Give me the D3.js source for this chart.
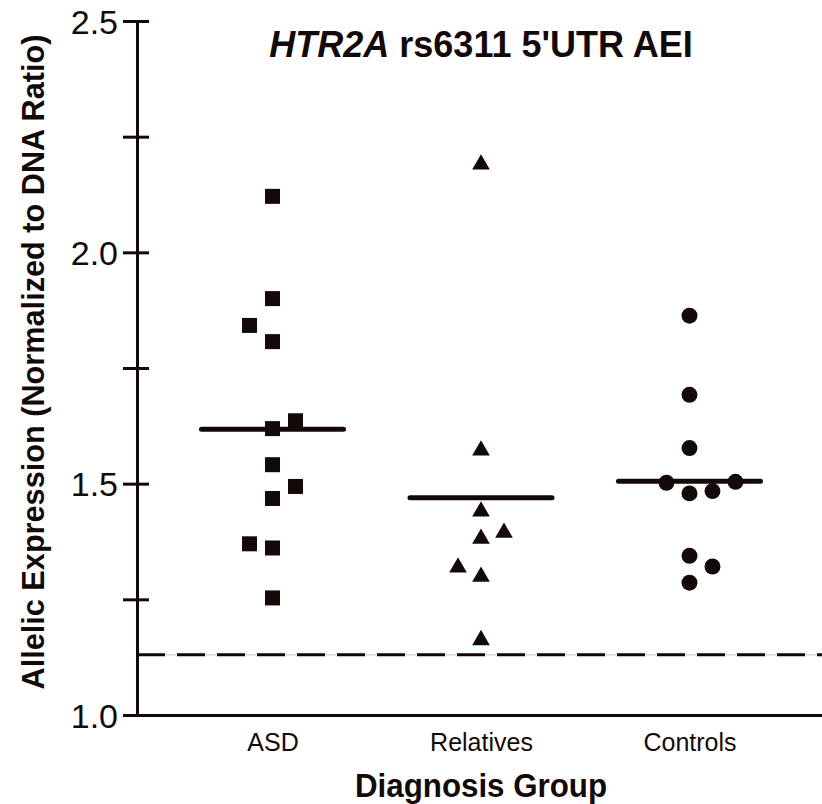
<!DOCTYPE html>
<html>
<head>
<meta charset="utf-8">
<script src="https://cdn.jsdelivr.net/npm/d3@7"></script>
<style>
  html, body { margin: 0; padding: 0; background: #fff; }
  svg { display: block; font-family: "Liberation Sans", Arial, sans-serif; }
</style>
</head>
<body>
<div id="chart"></div>
<script>
// groups on the x axis
const groups = ['ASD', 'Relatives', 'Controls'];

// allelic expression ratios
const asdValues = [2.121, 1.900, 1.842, 1.807, 1.636, 1.619, 1.541, 1.494, 1.468, 1.370, 1.361, 1.253];
const relativesValues = [2.190, 1.572, 1.440, 1.394, 1.381, 1.319, 1.299, 1.162];
const controlsValues = [1.863, 1.692, 1.577, 1.504, 1.502, 1.484, 1.479, 1.344, 1.321, 1.286];

// side-by-side slot of each point (scatter dodge, -1 left, +1 right)
const asdDodge = [0, 0, -1, 0, 1, 0, 0, 1, 0, -1, 0, 0];
const relativesDodge = [0, 0, 0, 1, 0, -1, 0, 0];
const controlsDodge = [0, 0, 0, 2, -1, 1, 0, 0, 1, 0];

// dashed threshold
const threshold = 1.13;

// y ticks
const yMajorTicks = [1.0, 1.5, 2.0, 2.5];
const yMinorTicks = [1.25, 1.75, 2.25];

const w = 822;
const h = 804;
const ink = '#140909';

const svg = d3.select('#chart')
    .append('svg')
    .attr('width', w)
    .attr('height', h);

const xScale = d3.scalePoint()
    .domain(groups)
    .range([137, 825])
    .padding(0.65);

const yScale = d3.scaleLinear()
    .domain([1.0, 2.5])
    .range([715, 21]);

const dodgeStep = 23;
const meanHalf = 71;

const series = [
    {group: 'ASD', values: asdValues, dodge: asdDodge, shape: d3.symbolSquare, size: 225},
    {group: 'Relatives', values: relativesValues, dodge: relativesDodge, shape: d3.symbolTriangle, size: 135},
    {group: 'Controls', values: controlsValues, dodge: controlsDodge, shape: d3.symbolCircle, size: 200}
];

// threshold line: faint underline plus dashes
svg.append('line')
    .attr('x1', 137).attr('x2', w)
    .attr('y1', yScale(threshold)).attr('y2', yScale(threshold))
    .attr('stroke', '#cbc3c3')
    .attr('stroke-width', 1);

svg.append('line')
    .attr('x1', 137).attr('x2', w)
    .attr('y1', yScale(threshold)).attr('y2', yScale(threshold))
    .attr('stroke', ink)
    .attr('stroke-width', 3)
    .attr('stroke-dasharray', '28,12');

// points
series.forEach(s => {
    svg.append('g')
        .selectAll('path')
        .data(s.values)
        .enter()
        .append('path')
        .attr('d', d3.symbol().type(s.shape).size(s.size))
        .attr('transform', (d, i) => 'translate(' + (xScale(s.group) + s.dodge[i] * dodgeStep) + ',' + yScale(d) + ')')
        .attr('fill', ink);
});

// mean lines
svg.append('g')
    .selectAll('line')
    .data(series)
    .enter()
    .append('line')
    .attr('x1', d => xScale(d.group) - meanHalf)
    .attr('x2', d => xScale(d.group) + meanHalf)
    .attr('y1', d => yScale(d3.mean(d.values)))
    .attr('y2', d => yScale(d3.mean(d.values)))
    .attr('stroke', ink)
    .attr('stroke-width', 5)
    .attr('stroke-linecap', 'round');

// y axis
const yAxis = d3.axisLeft(yScale)
    .tickValues(yMajorTicks.concat(yMinorTicks))
    .tickSizeOuter(0)
    .tickFormat(d => yMajorTicks.includes(d) ? d3.format('.1f')(d) : '');

const gy = svg.append('g')
    .attr('transform', 'translate(137,0)')
    .call(yAxis);

gy.select('.domain').attr('stroke', ink).attr('stroke-width', 3);
gy.selectAll('.tick line')
    .attr('x1', 12).attr('x2', -14)
    .attr('stroke', ink).attr('stroke-width', 3);
gy.selectAll('.tick text')
    .attr('x', -19)
    .attr('dy', '0.36em')
    .attr('fill', ink)
    .style('font-size', '34px');

// x axis
const xAxis = d3.axisBottom(xScale)
    .tickSize(0)
    .tickSizeOuter(0);

const gx = svg.append('g')
    .attr('transform', 'translate(0,715)')
    .call(xAxis);

gx.select('.domain').attr('stroke', ink).attr('stroke-width', 3);
gx.selectAll('.tick text')
    .attr('y', 18)
    .attr('fill', ink)
    .style('font-size', '25px');

// title
const title = svg.append('text')
    .attr('x', 481)
    .attr('y', 57)
    .attr('text-anchor', 'middle')
    .attr('fill', ink)
    .style('font-size', '36px')
    .style('font-weight', 'bold');
title.append('tspan').style('font-style', 'italic').text('HTR2A');
title.append('tspan').text(' rs6311 5\'UTR AEI');

// axis titles
svg.append('text')
    .attr('transform', 'translate(44,362) rotate(-90)')
    .attr('text-anchor', 'middle')
    .attr('fill', ink)
    .attr('textLength', 655)
    .attr('lengthAdjust', 'spacingAndGlyphs')
    .style('font-size', '32px')
    .style('font-weight', 'bold')
    .text('Allelic Expression (Normalized to DNA Ratio)');

svg.append('text')
    .attr('x', 481)
    .attr('y', 797)
    .attr('text-anchor', 'middle')
    .attr('fill', ink)
    .attr('textLength', 252)
    .attr('lengthAdjust', 'spacingAndGlyphs')
    .style('font-size', '33px')
    .style('font-weight', 'bold')
    .text('Diagnosis Group');
</script>
</body>
</html>
